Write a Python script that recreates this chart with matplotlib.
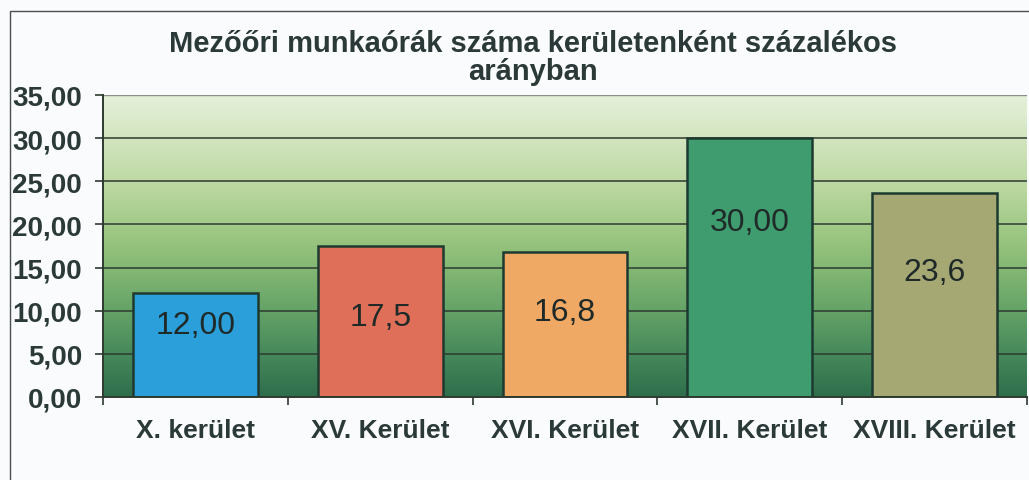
import numpy as np
import matplotlib
matplotlib.use("Agg")
import matplotlib.pyplot as plt
from matplotlib.colors import LinearSegmentedColormap
from matplotlib.patches import Rectangle
from matplotlib.ticker import FuncFormatter, FixedLocator

# --- adatok ---
keruletek = ["X. kerület", "XV. Kerület", "XVI. Kerület", "XVII. Kerület", "XVIII. Kerület"]
ertekek = [12.00, 17.5, 16.8, 30.00, 23.6]
cimkek = ["12,00", "17,5", "16,8", "30,00", "23,6"]
yticks = [0, 5, 10, 15, 20, 25, 30, 35]

# --- stílus ---
szinek = ["#2A9FDA", "#DF6F58", "#F0A865", "#3E9C6E", "#A6A874"]
cimke_y = [8.3, 9.3, 9.9, 20.3, 14.5]   # a feliratok függőleges helye (adategységben)
SOTET = "#2B3A38"
plt.rcParams["font.family"] = ["Liberation Sans", "DejaVu Sans"]

fig = plt.figure(figsize=(10.29, 4.81), dpi=100, facecolor="#F9FBFC")
ax = fig.add_axes([103/1029, 1-398/481, 924/1029, (398-96)/481])
ax.set_facecolor("none")

x = np.arange(len(keruletek))
ax.set_xlim(-0.5, len(keruletek)-0.5)
ax.set_ylim(0, 35)

# színátmenetes háttér
cmap = LinearSegmentedColormap.from_list("zold", [
    (0.0, "#2F6E4C"), (0.15, "#488A5C"), (0.3, "#68A568"),
    (0.5, "#94C27C"), (0.72, "#BFDAA5"), (1.0, "#E6F0DA")])
grad = np.linspace(0, 1, 256).reshape(-1, 1)
ax.imshow(grad, aspect="auto", cmap=cmap, origin="lower",
          extent=(-0.5, len(keruletek)-0.5, 0, 35), zorder=0)

for t in yticks[1:-1]:
    ax.axhline(t, color="#2E3A30", lw=1.1, zorder=1)
ax.axhline(35, color="#8A9088", lw=1.0, zorder=1)

ax.bar(x, ertekek, width=0.675, color=szinek, edgecolor="#1E3A30", linewidth=1.8, zorder=3)
for xi, yi, s in zip(x, cimke_y, cimkek):
    ax.text(xi, yi, s, ha="center", va="center", fontsize=23, color="#1F2A28", zorder=4)

for side in ["top", "right"]:
    ax.spines[side].set_visible(False)
for side in ["left", "bottom"]:
    ax.spines[side].set_color("#2E3A30")
    ax.spines[side].set_linewidth(1.4)
    ax.spines[side].set_zorder(5)

ax.set_yticks(yticks)
ax.yaxis.set_major_formatter(FuncFormatter(lambda v, p: f"{v:.2f}".replace(".", ",")))
ax.tick_params(axis="y", length=6, width=1.2, color="#2E3A30", pad=9,
               labelsize=20, labelcolor=SOTET)
for lab in ax.get_yticklabels():
    lab.set_fontweight("bold")

ax.set_xticks(x)
ax.set_xticklabels(keruletek, fontsize=19, fontweight="bold", color=SOTET)
ax.tick_params(axis="x", which="major", length=0, pad=15)
ax.xaxis.set_minor_locator(FixedLocator(np.arange(-0.5, len(keruletek), 1.0)))
ax.tick_params(axis="x", which="minor", length=6, width=1.2, color="#2E3A30")

fig.text(533/1029, 1-58/481, "Mezőőri munkaórák száma kerületenként százalékos\narányban",
         ha="center", va="center", fontsize=21, fontweight="bold", color=SOTET, linespacing=1.0)

# keret
fig.patches.append(Rectangle((10/1029, -0.05), 1.1, 1-12/481+0.05, transform=fig.transFigure,
                             fill=False, edgecolor="#4A4E4E", lw=1.0))

fig.savefig("out.png", dpi=100, facecolor=fig.get_facecolor())
